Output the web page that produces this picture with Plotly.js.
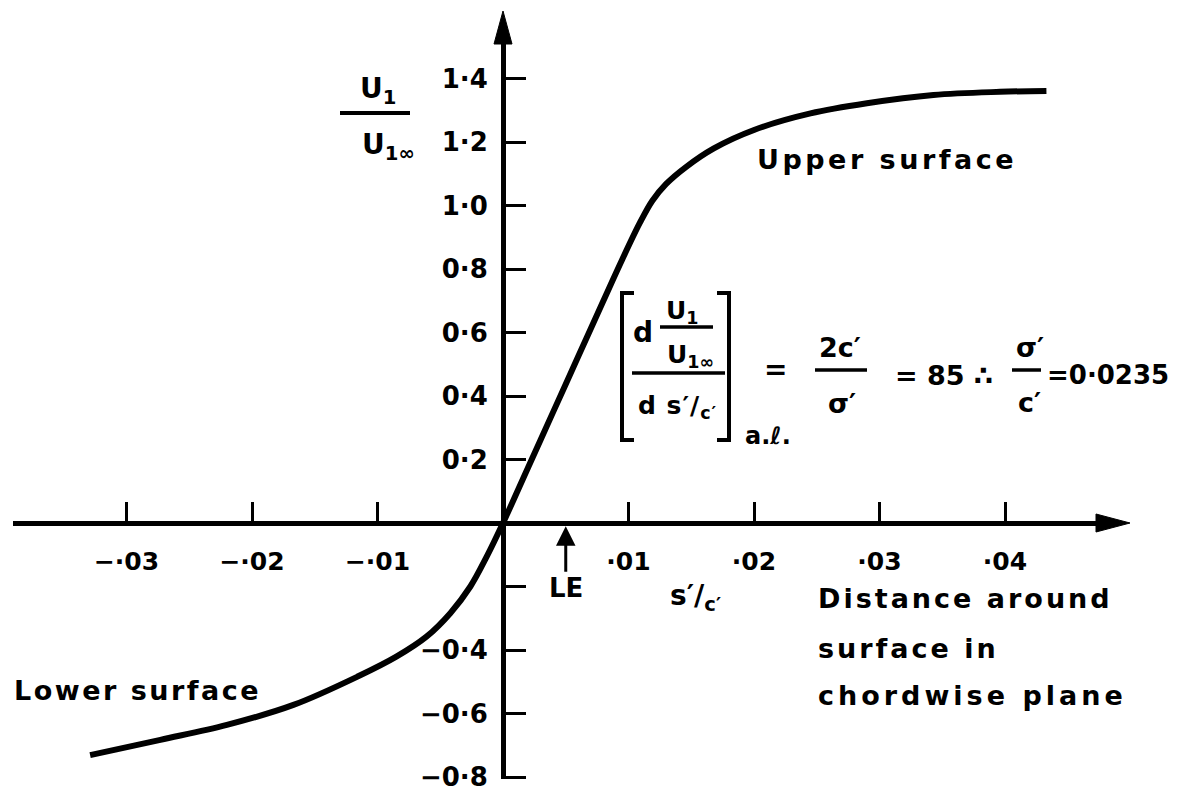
<!DOCTYPE html>
<html>
<head>
<meta charset="utf-8">
<script src="https://cdn.plot.ly/plotly-3.0.1.min.js"></script>
<style>html,body{margin:0;padding:0;background:#fff;}</style>
</head>
<body>
<div id="chart" style="width:1188px;height:792px"></div>
<script>
// Velocity ratio U1/U1∞ plotted against distance s'/c' around the section,
// lower surface (negative) through the origin to the upper surface (positive).
const distance = [-0.0329, -0.0273, -0.0220, -0.0167, -0.0115, -0.0085, -0.0061, -0.0042,
                  -0.0026, -0.0013, 0, 0.0020, 0.0040, 0.0060, 0.0080, 0.0095, 0.0109,
                  0.0119, 0.0130, 0.0146, 0.0168, 0.0200, 0.0245, 0.0290, 0.0343, 0.0396,
                  0.0433];
const velocityRatio = [-0.731, -0.683, -0.636, -0.573, -0.482, -0.421, -0.358, -0.284,
                       -0.200, -0.106, 0, 0.175, 0.350, 0.525, 0.700, 0.830, 0.945,
                       1.015, 1.068, 1.122, 1.180, 1.238, 1.290, 1.322, 1.348, 1.358,
                       1.361];

const xTickVals = [-0.03, -0.02, -0.01, 0.01, 0.02, 0.03, 0.04];
const xTickText = ['−·03', '−·02', '−·01', '·01', '·02', '·03', '·04'];
const yTickVals = [1.4, 1.2, 1.0, 0.8, 0.6, 0.4, 0.2, -0.2, -0.4, -0.6, -0.8];
const yTickText = ['1·4', '1·2', '1·0', '0·8', '0·6', '0·4', '0·2', '', '−0·4', '−0·6', '−0·8'];

const leadingEdge = 0.0050;

const W = 1188, H = 792;
const FONT = 'DejaVu Sans, sans-serif';
const WEIGHT = 'bold';
const INK = '#000';

// figure pixel -> paper fraction
const px = x => x / W;
const py = y => 1 - y / H;

// axis geometry (pixels): origin, scale, extents
const ORIGIN_X = 503, ORIGIN_Y = 523;
const X_PER_UNIT = 12550, Y_PER_UNIT = 317.5;
const X_LEFT = 13, X_RIGHT = 1100;
const Y_BOTTOM = 779, Y_TOP = 40;

const xRange = [(X_LEFT - ORIGIN_X) / X_PER_UNIT, (X_RIGHT - ORIGIN_X) / X_PER_UNIT];
const yRange = [(ORIGIN_Y - Y_BOTTOM) / Y_PER_UNIT, (ORIGIN_Y - Y_TOP) / Y_PER_UNIT];

function spaced(text, sp) {
  return '<span style="letter-spacing:' + sp + 'px">' + text + '</span>';
}

function label(text, x, y, size, opts) {
  return Object.assign({
    text: text, xref: 'paper', yref: 'paper', x: px(x), y: py(y),
    xanchor: 'center', yanchor: 'middle', showarrow: false,
    font: {family: FONT, size: size, color: INK, weight: WEIGHT}
  }, opts || {});
}

function rule(x0, y0, x1, y1, w) {
  return {type: 'line', xref: 'paper', yref: 'paper',
          x0: px(x0), y0: py(y0), x1: px(x1), y1: py(y1),
          line: {color: INK, width: w || 3}};
}

function poly(points, filled, w) {
  const d = points.map((p, i) => (i ? 'L' : 'M') + px(p[0]) + ',' + py(p[1])).join(' ');
  return {type: 'path', xref: 'paper', yref: 'paper',
          path: d + (filled ? ' Z' : ''),
          fillcolor: filled ? INK : 'rgba(0,0,0,0)',
          line: {color: INK, width: w || 3}};
}

const curve = {
  x: distance, y: velocityRatio, type: 'scatter', mode: 'lines',
  line: {color: INK, width: 6, shape: 'spline', smoothing: 1},
  hoverinfo: 'skip', cliponaxis: false
};

const shapes = [
  // arrowheads on the axes
  poly([[1130, ORIGIN_Y], [1096, ORIGIN_Y - 9], [1096, ORIGIN_Y + 9]], true, 1),
  poly([[ORIGIN_X, 11], [ORIGIN_X - 9, 44], [ORIGIN_X + 9, 44]], true, 1),
  // U1 / U1∞ fraction bar by the vertical axis
  rule(340, 113, 410, 113, 4),
  // bracketed derivative
  poly([[634, 293], [622, 293], [622, 440], [634, 440]], false, 4),
  poly([[717, 293], [729, 293], [729, 440], [717, 440]], false, 4),
  rule(660, 327, 713, 327, 3.5),
  rule(632, 373, 725, 373, 3.5),
  rule(815, 370, 867, 370, 3.5),
  rule(1012, 370, 1041, 370, 3.5)
];

const annotations = [
  // vertical axis title
  label('U<sub>1</sub>', 378, 90, 28),
  label('U<sub>1∞</sub>', 388, 146, 28),
  // curve labels
  label(spaced('Upper surface', 3.5), 887, 160, 27),
  label(spaced('Lower surface', 2.5), 137, 690, 27),
  label(spaced('Distance around', 3), 816, 598, 27, {xanchor: 'left'}),
  label(spaced('surface in', 3), 816, 648, 27, {xanchor: 'left'}),
  label(spaced('chordwise plane', 4), 816, 695, 27, {xanchor: 'left'}),
  label('s′/<sub>c′</sub>', 695, 597, 28),
  // leading edge marker
  {text: 'LE', xref: 'x', yref: 'y', x: leadingEdge, y: -0.01, ax: 0, ay: 62,
   showarrow: true, arrowhead: 2, arrowsize: 1.3, arrowwidth: 3, arrowcolor: INK,
   standoff: 0, font: {family: FONT, size: 26, color: INK, weight: WEIGHT}},
  // slope relation at the attachment line
  label('d', 643, 333, 28),
  label('U<sub>1</sub>', 682, 312, 25),
  label('U<sub>1∞</sub>', 690, 356, 25),
  label(spaced('d s′/<sub>c′</sub>', 1), 677, 407, 25),
  label('a.ℓ.', 768, 436, 24),
  label('=', 775, 370, 28),
  label('2c′', 840, 347, 27),
  label('σ′', 842, 403, 27),
  label('= 85 ∴', 944, 375, 27),
  label('σ′', 1030, 347, 27),
  label('c′', 1029, 402, 27),
  label('=0·0235', 1108, 375, 26)
];

const layout = {
  width: W, height: H,
  margin: {l: 0, r: 0, t: 0, b: 0, pad: 0},
  paper_bgcolor: '#fff', plot_bgcolor: 'rgba(0,0,0,0)',
  showlegend: false,
  font: {family: FONT, color: INK, weight: WEIGHT},
  xaxis: {
    domain: [px(X_LEFT), px(X_RIGHT)], range: xRange,
    anchor: 'free', position: py(ORIGIN_Y),
    showline: true, linewidth: 5, linecolor: INK,
    ticks: 'inside', ticklen: 19, tickwidth: 3, tickcolor: INK,
    tickvals: xTickVals, ticktext: xTickText,
    tickfont: {family: FONT, size: 25, color: INK, weight: WEIGHT},
    ticklabelstandoff: 14, ticklabeloverflow: 'allow',
    showgrid: false, zeroline: false, fixedrange: true
  },
  yaxis: {
    domain: [py(Y_BOTTOM), py(Y_TOP)], range: yRange,
    anchor: 'free', position: px(ORIGIN_X),
    showline: true, linewidth: 5, linecolor: INK,
    ticks: 'inside', ticklen: 20, tickwidth: 3, tickcolor: INK,
    tickvals: yTickVals, ticktext: yTickText,
    tickfont: {family: FONT, size: 26, color: INK, weight: WEIGHT},
    ticklabelstandoff: 8, ticklabeloverflow: 'allow',
    showgrid: false, zeroline: false, fixedrange: true
  },
  shapes: shapes,
  annotations: annotations
};

Plotly.newPlot('chart', [curve], layout, {displayModeBar: false, staticPlot: true});
</script>
</body>
</html>
